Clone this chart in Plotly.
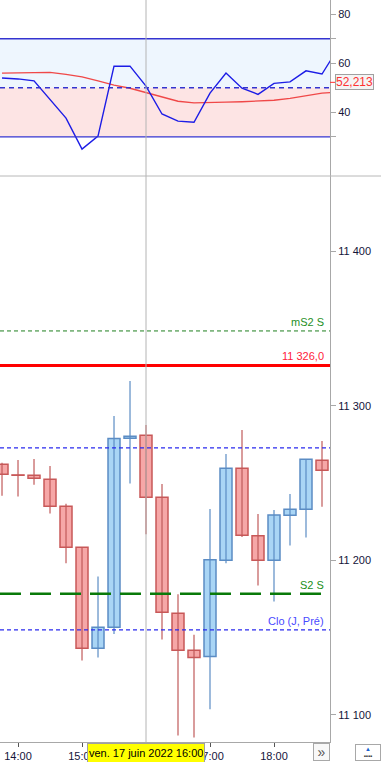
import plotly.graph_objects as go
from plotly.subplots import make_subplots

DAY = "2022-06-17 "
times = ["13:45", "14:00", "14:15", "14:30", "14:45", "15:00", "15:15", "15:30", "15:45",
         "16:00", "16:15", "16:30", "16:45", "17:00", "17:15", "17:30", "17:45", "18:00",
         "18:15", "18:30", "18:45"]
opens = [11262.1, 11255.2, 11255.0, 11252.4, 11234.9, 11208.5, 11143.2, 11156.7, 11278.9,
         11280.9, 11240.8, 11165.8, 11141.9, 11137.8, 11200.1, 11259.5, 11215.8, 11200.1,
         11229.1, 11233.0, 11264.7]
highs = [11263.0, 11264.9, 11265.5, 11261.0, 11236.5, 11208.5, 11189.5, 11293.3, 11316.0,
         11287.5, 11249.4, 11178.1, 11151.8, 11233.2, 11268.8, 11284.3, 11230.0, 11232.6,
         11242.9, 11265.3, 11277.2]
lows = [11241.8, 11241.2, 11248.9, 11230.2, 11198.1, 11135.2, 11137.1, 11152.4, 11249.6,
        11216.9, 11148.8, 11086.7, 11085.4, 11103.7, 11198.1, 11215.0, 11183.7, 11173.3,
        11209.5, 11214.7, 11234.7]
closes = [11255.7, 11255.0, 11253.0, 11234.9, 11208.5, 11143.2, 11156.7, 11278.7, 11280.2,
          11240.8, 11166.4, 11141.9, 11137.1, 11200.3, 11259.5, 11216.2, 11200.1, 11229.3,
          11233.0, 11265.3, 11258.2]

osc_times = times + ["19:00"]
osc_values = [54.0, 53.6, 52.8, 45.1, 37.6, 25.0, 30.3, 58.8, 58.8, 50.7, 39.3, 36.4, 35.9,
              47.8, 56.0, 49.8, 47.3, 51.8, 52.4, 56.9, 55.6, 66.0]
osc_avg = [56.0, 56.2, 56.4, 56.3, 55.5, 54.4, 52.8, 51.1, 49.8, 48.0, 46.1, 44.5, 43.8,
           43.8, 44.1, 44.3, 44.5, 44.9, 45.7, 46.8, 47.8, 48.3]
osc_upper, osc_mid, osc_lower = 70, 50, 30
osc_last_label = 52.213

lvl_ms2 = 11348.3
lvl_red = 11326.0
lvl_blue_up = 11272.7
lvl_s2 = 11178.3
lvl_clo = 11155.0
cross_time = "16:00"
date_label = "ven. 17 juin 2022 16:00"

x_range = [DAY + "13:43:07", DAY + "18:52:30"]
hour_ticks = ["14:00", "15:00", "16:00", "17:00", "18:00"]
hour_labels = ["14:00", "15:00", "", "17:00", "18:00"]
price_ticks = [11100, 11200, 11300, 11400]

FONT = "Liberation Sans"
GRAY = "#a8a8a8"

fig = make_subplots(rows=2, cols=1, shared_xaxes=True, vertical_spacing=0,
                    row_heights=[176, 566])

# oscillator panel
fig.add_shape(type="rect", xref="x domain", yref="y", x0=0, x1=1, y0=osc_mid, y1=osc_upper,
              fillcolor="#eef6fe", line_width=0, layer="below")
fig.add_shape(type="rect", xref="x domain", yref="y", x0=0, x1=1, y0=osc_lower, y1=osc_mid,
              fillcolor="#fde4e4", line_width=0, layer="below")
for lv, dash in [(osc_upper, "solid"), (osc_lower, "solid"), (osc_mid, "5px,4px")]:
    fig.add_shape(type="line", xref="x domain", yref="y", x0=0, x1=1, y0=lv, y1=lv,
                  line=dict(color="#3434d0", width=1.3, dash=dash))

ox = [DAY + t for t in osc_times]
fig.add_trace(go.Scatter(x=ox, y=osc_avg, mode="lines",
                         line=dict(color="#f04848", width=1.3), hoverinfo="skip"), row=1, col=1)
fig.add_trace(go.Scatter(x=ox, y=osc_values, mode="lines",
                         line=dict(color="#1c1ce6", width=1.4), hoverinfo="skip"), row=1, col=1)

# main price panel levels
def hline(y, color, width, dash):
    fig.add_shape(type="line", xref="x2 domain", yref="y2", x0=0, x1=1, y0=y, y1=y,
                  line=dict(color=color, width=width, dash=dash))

hline(lvl_ms2, "#1f7f1f", 1, "4px,3px")
hline(lvl_red, "#ff0000", 3, "solid")
hline(lvl_blue_up, "#2a2aee", 1.1, "4px,3px")
hline(lvl_s2, "#0a7a0a", 2.5, "21px,9px")
hline(lvl_clo, "#2a2aee", 1.1, "4px,3px")

for y, txt, col in [(lvl_ms2, "mS2 S", "#1f8f1f"), (lvl_red, "11 326,0", "#ff1a3a"),
                    (lvl_s2, "S2 S", "#1a8f1a"), (lvl_clo, "Clo (J, Pré)", "#4a4aff")]:
    fig.add_annotation(xref="x2 domain", yref="y2", x=0.988, y=y, text=txt, showarrow=False,
                       xanchor="right", yanchor="bottom", yshift=1,
                       font=dict(family=FONT, size=11, color=col))

# candles
up = [i for i in range(len(times)) if closes[i] >= opens[i]]
dn = [i for i in range(len(times)) if closes[i] < opens[i]]

def wick_xy(idx):
    xs, ys = [], []
    for i in idx:
        xs += [DAY + times[i], DAY + times[i], None]
        ys += [lows[i], highs[i], None]
    return xs, ys

for idx, wcol in [(dn, "#c05a5a"), (up, "#5b8cc4")]:
    wx, wy = wick_xy(idx)
    fig.add_trace(go.Scatter(x=wx, y=wy, mode="lines", line=dict(color=wcol, width=1.2),
                             hoverinfo="skip"), row=2, col=1)

BODY_W = 11.25 * 60 * 1000
for idx, fill, border in [(dn, "#f6a7a7", "#c85858"), (up, "#a9d5f5", "#5b8cc4")]:
    fig.add_trace(go.Bar(x=[DAY + times[i] for i in idx],
                         base=[min(opens[i], closes[i]) for i in idx],
                         y=[max(abs(closes[i] - opens[i]), 0.2) for i in idx],
                         width=BODY_W, marker=dict(color=fill, line=dict(color=border, width=1.5)),
                         hoverinfo="skip"), row=2, col=1)

# crosshair
fig.add_shape(type="line", xref="x2", yref="paper", x0=DAY + cross_time, x1=DAY + cross_time,
              y0=0, y1=1, line=dict(color="#b4b4b4", width=1))
# panel divider
fig.add_shape(type="line", xref="paper", yref="paper", x0=0, x1=381 / 330, y0=566 / 742,
              y1=566 / 742, line=dict(color="#b8b8b8", width=1))
# last-value tick and label
fig.add_shape(type="line", xref="paper", yref="y", x0=1, x1=1 + 5 / 330, y0=osc_last_label,
              y1=osc_last_label, line=dict(color="#ff3030", width=1))
fig.add_annotation(xref="paper", yref="y", x=1 + 5 / 330, y=osc_last_label, text="52,213",
                   showarrow=False, xanchor="left", yanchor="middle",
                   bgcolor="#f4f4f4", bordercolor="#a0a0a0", borderwidth=1, borderpad=0,
                   font=dict(family=FONT, size=12, color="#ff3030"))
# date box
fig.add_annotation(xref="x2", yref="paper", x=DAY + cross_time, y=0, yshift=-1, text=date_label,
                   showarrow=False, xanchor="center", yanchor="top", bgcolor="#ffff00",
                   bordercolor="#a0a0a0", borderwidth=1, borderpad=1, height=16,
                   font=dict(family=FONT, size=11, color="#000000"))
# scroll button
fig.add_annotation(xref="paper", yref="paper", x=1, y=0, yshift=-1, text="»", showarrow=False,
                   xanchor="right", yanchor="top", width=15, height=16, bgcolor="#f8f8f8",
                   bordercolor="#a8a8a8", borderwidth=1, borderpad=0,
                   font=dict(family=FONT, size=14, color="#555555"))
fig.add_annotation(xref="paper", yref="paper", x=381 / 330, y=0, yshift=-2,
                   text="<span style='color:#1a5fd0'>▲</span><br>▪▪▪▪", showarrow=False,
                   xanchor="right", yanchor="top", width=24, height=15, bgcolor="#ffffff",
                   bordercolor="#a8a8a8", borderwidth=1, borderpad=0,
                   font=dict(family=FONT, size=6, color="#333333"))

tickfont = dict(family=FONT, size=11, color="#14143a")
fig.update_xaxes(type="date", range=x_range, showgrid=False, zeroline=False)
fig.update_xaxes(row=1, col=1, showticklabels=False, ticks="", showline=False)
fig.update_xaxes(row=2, col=1, tickvals=[DAY + t for t in hour_ticks], ticktext=hour_labels,
                 ticks="outside", ticklen=4, tickcolor="#555555", showline=True,
                 linecolor=GRAY, tickfont=tickfont)
fig.update_yaxes(row=1, col=1, range=[14.0, 85.8], side="right", tickvals=[30, 40, 60, 70, 80],
                 ticktext=["", "40", "60", "", "80"], ticks="outside", ticklen=5,
                 tickcolor=GRAY, showline=True, linecolor=GRAY, showgrid=False, zeroline=False,
                 tickfont=tickfont)
fig.update_yaxes(row=2, col=1, range=[11082.5, 11448.5], side="right",
                 tickvals=price_ticks, tickformat=",d", ticks="outside", ticklen=5,
                 tickcolor=GRAY, showline=True, linecolor=GRAY, showgrid=False, zeroline=False,
                 tickfont=tickfont)

fig.update_layout(width=381, height=762, margin=dict(l=0, r=51, t=0, b=20),
                  paper_bgcolor="white", plot_bgcolor="white", showlegend=False,
                  barmode="overlay", separators=", ", hovermode=False)

fig.write_html("out.html", config={"displayModeBar": False})
